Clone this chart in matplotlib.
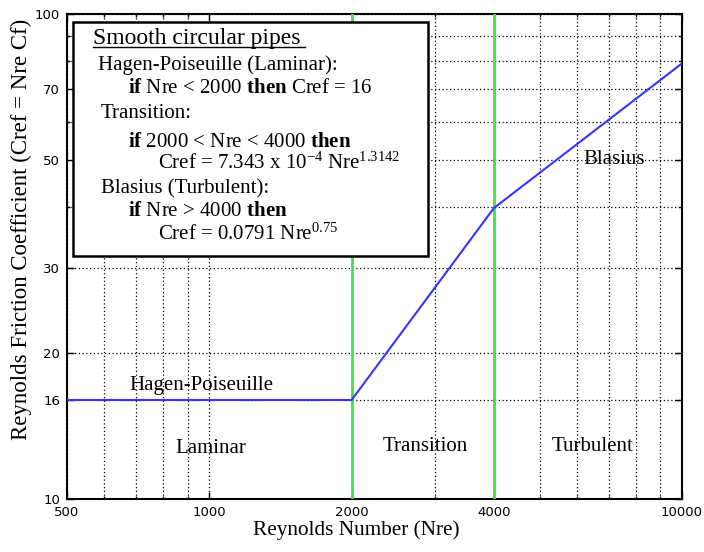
import matplotlib
matplotlib.use("Agg")
import matplotlib.pyplot as plt
from matplotlib.patches import Rectangle
from matplotlib.lines import Line2D
from matplotlib.ticker import FixedLocator, NullFormatter, FixedFormatter

# Friction-coefficient curve (break points of the piecewise law, log-log)
nre = [500, 2000, 4000, 10000]
cref = [16, 16, 39.8, 79.1]

# Regime boundaries
boundaries = [2000, 4000]

# Tick labels
x_major = [500, 1000, 2000, 4000, 10000]
x_minor = [600, 700, 800, 900, 3000, 5000, 6000, 7000, 8000, 9000]
y_major = [10, 16, 20, 30, 50, 70, 100]
y_minor = [40, 60, 80, 90]

W, H = 704, 552
SERIF = "Liberation Serif"
plt.rcParams["mathtext.fontset"] = "custom"
plt.rcParams["mathtext.rm"] = SERIF
plt.rcParams["mathtext.bf"] = SERIF + ":bold"
plt.rcParams["mathtext.it"] = SERIF + ":italic"

fig = plt.figure(figsize=(W / 100, H / 100), dpi=100)
L, R, T, B = 67, 682, 14, 499
ax = fig.add_axes([L / W, 1 - B / H, (R - L) / W, (B - T) / H])


def px(x, y):
    return x / W, 1 - y / H


ax.set_xscale("log")
ax.set_yscale("log")
ax.set_xlim(500, 10000)
ax.set_ylim(10, 100)

ax.xaxis.set_major_locator(FixedLocator(x_major))
ax.xaxis.set_major_formatter(FixedFormatter([str(v) for v in x_major]))
ax.xaxis.set_minor_locator(FixedLocator(x_minor))
ax.xaxis.set_minor_formatter(NullFormatter())
ax.yaxis.set_major_locator(FixedLocator(y_major))
ax.yaxis.set_major_formatter(FixedFormatter([str(v) for v in y_major]))
ax.yaxis.set_minor_locator(FixedLocator(y_minor))
ax.yaxis.set_minor_formatter(NullFormatter())

ax.tick_params(which="both", direction="in", top=True, right=True,
               labelsize=9.5, pad=5, width=1)
ax.tick_params(which="major", length=5)
ax.tick_params(which="minor", length=2)
for lab in ax.get_xticklabels() + ax.get_yticklabels():
    lab.set_family("DejaVu Sans")

ax.grid(which="both", color="black", linestyle=(0, (1, 2)), linewidth=0.9)
for s in ax.spines.values():
    s.set_linewidth(1.5)

for b in boundaries:
    ax.axvline(b, color="#44e044", linewidth=2, zorder=3)

ax.plot(nre, cref, color="#3535ff", linewidth=1.5, zorder=4)

# Axis titles
fig.text(*px(356, 530), "Reynolds Number (Nre)", family=SERIF, fontsize=15.3,
         ha="center", va="center")
fig.text(*px(21, 229), "Reynolds Friction Coefficient (Cref = Nre Cf)",
         family=SERIF, fontsize=16.5, rotation=90, ha="center", va="center")

# Regime annotations
ann = dict(family=SERIF, fontsize=15, ha="center", va="center", zorder=5)
ax.text(0.218, 0.233, "Hagen-Poiseuille", transform=ax.transAxes, **ann)
ax.text(0.234, 0.105, "Laminar", transform=ax.transAxes, **ann)
ax.text(0.582, 0.109, "Transition", transform=ax.transAxes, **ann)
ax.text(0.855, 0.109, "Turbulent", transform=ax.transAxes, **ann)
ax.text(0.889, 0.699, "Blasius", transform=ax.transAxes, **ann)

# Formula box
x0, y0, x1, y1 = 73, 22, 428, 256
box = Rectangle(px(x0, y1), (x1 - x0) / W, (y1 - y0) / H,
                transform=fig.transFigure, facecolor="white",
                edgecolor="black", linewidth=1.8, zorder=10)
fig.patches.append(box)

txt = dict(family=SERIF, ha="left", va="baseline", zorder=11)
lines = [
    (93, 44, "Smooth circular pipes", 17),
    (98, 70, "Hagen-Poiseuille (Laminar):", 15),
    (128, 93, r"$\mathbf{if}$ Nre < 2000 $\mathbf{then}$ Cref = 16", 15),
    (101, 118, "Transition:", 15),
    (128, 147, r"$\mathbf{if}$ 2000 < Nre < 4000 $\mathbf{then}$", 15),
    (158, 169, r"Cref = 7.343 x 10$^{-4}$ Nre$^{1.3142}$", 15),
    (101, 193, "Blasius (Turbulent):", 15),
    (128, 216, r"$\mathbf{if}$ Nre > 4000 $\mathbf{then}$", 15),
    (158, 240, r"Cref = 0.0791 Nre$^{0.75}$", 15),
]
for x, y, s, fs in lines:
    fig.text(*px(x, y), s, fontsize=fs, **txt)

fig.lines.append(Line2D([93 / W, 305 / W], [1 - 47 / H, 1 - 47 / H],
                        transform=fig.transFigure, color="black",
                        linewidth=1, zorder=11))

fig.savefig("out.png", dpi=100)
